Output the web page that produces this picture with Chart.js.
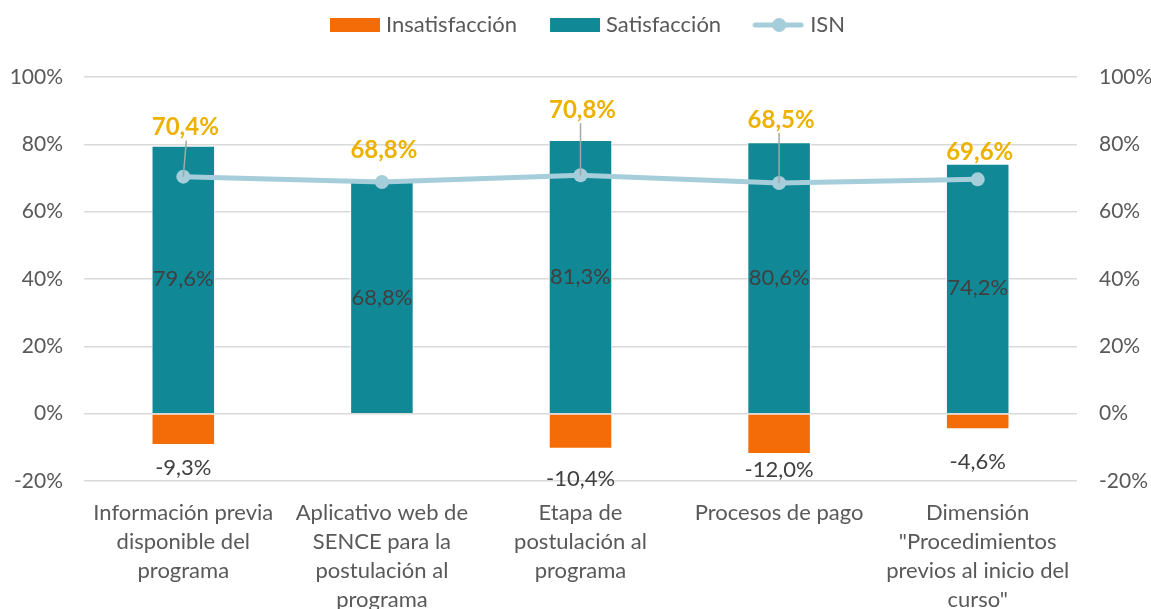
<!DOCTYPE html>
<html lang="es">
<head>
    <meta charset="UTF-8">
    <title>ISN por dimensión</title>
    <style>
        html, body { margin: 0; padding: 0; background: #fff; }
        .chart-container { width: 1151px; height: 609px; }
    </style>
</head>
<body>
    <div class="chart-container">
        <canvas id="isnChart"></canvas>
    </div>

    <script src="https://cdn.jsdelivr.net/npm/chart.js"></script>
    <script>
        // Data
        const categories = [
            ['Información previa', 'disponible del', 'programa'],
            ['Aplicativo web de', 'SENCE para la', 'postulación al', 'programa'],
            ['Etapa de', 'postulación al', 'programa'],
            ['Procesos de pago'],
            ['Dimensión', '"Procedimientos', 'previos al inicio del', 'curso"']
        ];
        const insatisfaccion = [-9.3, 0, -10.4, -12.0, -4.6];
        const satisfaccion = [79.6, 68.8, 81.3, 80.6, 74.2];
        const isn = [70.4, 68.8, 70.8, 68.5, 69.6];
        const tickValues = [-20, 0, 20, 40, 60, 80, 100];

        // Label placement (pixels), ISN labels sit above their point
        const isnLabelRise = [49, 32, 65, 63, 27];
        const isnLeader = [true, false, true, true, false];
        const insatLabelDrop = [23, 0, 30, 16, 33];

        const FONT = 'Lato, "Open Sans", sans-serif';
        const GREY = '#595959';
        const ORANGE = '#F36C07';
        const TEAL = '#108896';
        const LIGHTBLUE = '#A6CDDA';
        const GOLD = '#EDB100';

        const fmt = v => v.toFixed(1).replace('.', ',') + '%';

        // legend swatches: the blank left part of the image spaces the items apart
        function swatch(kind, color) {
            const c = document.createElement('canvas');
            c.width = 79; c.height = 16;
            const g = c.getContext('2d');
            if (kind === 'box') {
                g.fillStyle = color;
                g.fillRect(29, 1, 50, 14);
            } else {
                g.strokeStyle = color;
                g.lineWidth = 5;
                g.lineCap = 'round';
                g.beginPath(); g.moveTo(30, 8); g.lineTo(76, 8); g.stroke();
                g.fillStyle = color;
                g.beginPath(); g.arc(54, 8, 7, 0, Math.PI * 2); g.fill();
            }
            return c;
        }

        // leave some room under the legend
        const legendGap = {
            id: 'legendGap',
            beforeLayout(chart) {
                const lg = chart.legend;
                if (!lg || lg._gapPatched) return;
                const fit = lg.fit;
                lg.fit = function () {
                    fit.call(this);
                    this.height += 31;
                };
                lg._gapPatched = true;
            }
        };

        const labelPlugin = {
            id: 'valueLabels',
            afterDatasetsDraw(chart) {
                const ctx = chart.ctx;
                ctx.save();
                ctx.textAlign = 'center';
                ctx.textBaseline = 'middle';

                // satisfaccion inside bars
                const satMeta = chart.getDatasetMeta(1);
                ctx.font = '22px ' + FONT;
                ctx.fillStyle = '#404040';
                satMeta.data.forEach((el, i) => {
                    ctx.fillText(fmt(satisfaccion[i]), el.x, (el.y + el.base) / 2);
                });

                // insatisfaccion below bars
                const insMeta = chart.getDatasetMeta(0);
                insMeta.data.forEach((el, i) => {
                    if (insatisfaccion[i] === 0) return;
                    ctx.fillText(fmt(insatisfaccion[i]), el.x, el.y + insatLabelDrop[i]);
                });

                // ISN labels with leader lines
                const isnMeta = chart.getDatasetMeta(2);
                ctx.font = 'bold 24px ' + FONT;
                isnMeta.data.forEach((pt, i) => {
                    const ly = pt.y - isnLabelRise[i];
                    if (isnLeader[i]) {
                        ctx.strokeStyle = '#A6A6A6';
                        ctx.lineWidth = 1.5;
                        ctx.beginPath();
                        ctx.moveTo(pt.x + (i === 0 ? 3 : 0), ly + 13);
                        ctx.lineTo(pt.x, pt.y);
                        ctx.stroke();
                    }
                    ctx.fillStyle = GOLD;
                    ctx.fillText(fmt(isn[i]), pt.x + 2, ly);
                });
                ctx.restore();
            }
        };

        const ctx = document.getElementById('isnChart');
        new Chart(ctx, {
            type: 'bar',
            data: {
                labels: categories,
                datasets: [
                    {
                        label: 'Insatisfacción',
                        data: insatisfaccion,
                        backgroundColor: ORANGE,
                        borderColor: '#FFFFFF',
                        borderWidth: 1,
                        barPercentage: 0.32,
                        categoryPercentage: 1,
                        stack: 'bars',
                        order: 2
                    },
                    {
                        label: 'Satisfacción',
                        data: satisfaccion,
                        backgroundColor: TEAL,
                        borderColor: '#FFFFFF',
                        borderWidth: 1,
                        barPercentage: 0.32,
                        categoryPercentage: 1,
                        stack: 'bars',
                        order: 2
                    },
                    {
                        type: 'line',
                        label: 'ISN',
                        data: isn,
                        borderColor: LIGHTBLUE,
                        backgroundColor: LIGHTBLUE,
                        borderWidth: 5,
                        pointRadius: 7,
                        pointHoverRadius: 7,
                        pointBorderWidth: 0,
                        tension: 0,
                        stack: 'isn',
                        order: 1
                    }
                ]
            },
            options: {
                responsive: true,
                maintainAspectRatio: false,
                animation: false,
                layout: { padding: { top: 5, left: 0, right: 0, bottom: 0 } },
                plugins: {
                    tooltip: { enabled: false },
                    legend: {
                        position: 'top',
                        labels: {
                            usePointStyle: true,
                            pointStyleWidth: 69,
                            padding: 9,
                            color: GREY,
                            font: { family: FONT, size: 22 },
                            generateLabels() {
                                return [
                                    { text: 'Insatisfacción', pointStyle: swatch('box', ORANGE), fontColor: GREY, datasetIndex: 0 },
                                    { text: 'Satisfacción', pointStyle: swatch('box', TEAL), fontColor: GREY, datasetIndex: 1 },
                                    { text: 'ISN', pointStyle: swatch('line', LIGHTBLUE), fontColor: GREY, datasetIndex: 2 }
                                ];
                            }
                        }
                    }
                },
                scales: {
                    x: {
                        stacked: true,
                        grid: { display: false },
                        border: { display: false },
                        ticks: {
                            color: GREY,
                            maxRotation: 0,
                            autoSkip: false,
                            padding: 9,
                            font: { family: FONT, size: 22, lineHeight: 1.32 }
                        },
                        afterFit(scale) { scale.height = 128; }
                    },
                    y: {
                        stacked: true,
                        min: -20,
                        max: 100,
                        position: 'left',
                        afterBuildTicks(scale) { scale.ticks = tickValues.map(v => ({ value: v })); },
                        afterFit(scale) { scale.width = 84; },
                        grid: { color: '#D9D9D9', lineWidth: 1.5, drawTicks: false },
                        border: { display: false },
                        ticks: {
                            color: GREY,
                            padding: 21,
                            font: { family: FONT, size: 21 },
                            callback: v => v + '%'
                        }
                    },
                    y2: {
                        min: -20,
                        max: 100,
                        position: 'right',
                        afterBuildTicks(scale) { scale.ticks = tickValues.map(v => ({ value: v })); },
                        afterFit(scale) { scale.width = 74; },
                        grid: { display: false, drawTicks: false },
                        border: { display: false },
                        ticks: {
                            color: GREY,
                            padding: 22,
                            font: { family: FONT, size: 21 },
                            callback: v => v + '%'
                        }
                    }
                }
            },
            plugins: [legendGap, labelPlugin]
        });
    </script>
</body>
</html>
